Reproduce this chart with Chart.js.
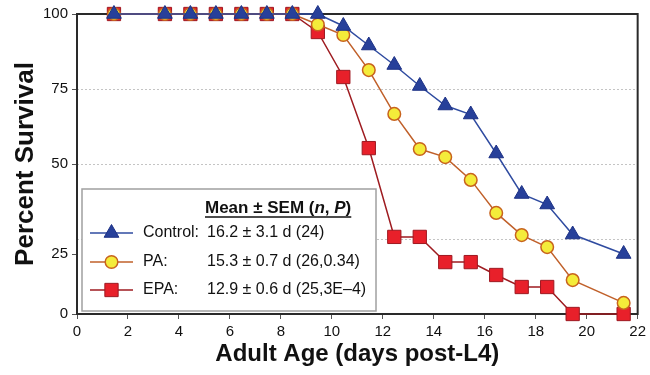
<!DOCTYPE html>
<html>
<head>
<meta charset="utf-8">
<script src="https://cdn.jsdelivr.net/npm/chart.js@4"></script>
<style>
    body { margin: 0; background: #fff; }
</style>
</head>
<body>
<canvas id="chart" width="650" height="375"></canvas>
<script>
// Survival (percent alive) by adult age
const days = [1.45, 3.45, 4.45, 5.45, 6.45, 7.45, 8.45, 9.45, 10.45, 11.45, 12.45, 13.45, 14.45, 15.45, 16.45, 17.45, 18.45, 19.45, 21.45];
const control = [100, 100, 100, 100, 100, 100, 100, 100, 96, 89.5, 83, 76, 69.5, 66.5, 53.5, 40, 36.5, 26.5, 20];
const pa = [100, 100, 100, 100, 100, 100, 100, 96.5, 93, 81.3, 66.7, 55, 52.3, 44.7, 33.7, 26.3, 22.3, 11.3, 3.7];
const epa = [100, 100, 100, 100, 100, 100, 100, 94, 79, 55.3, 25.7, 25.7, 17.3, 17.3, 13, 9, 9, 0, 0];

// Legend text
const seriesNames = ['Control:', 'PA:', 'EPA:'];
const seriesStats = ['16.2 ± 3.1 d (24)', '15.3 ± 0.7 d (26,0.34)', '12.9 ± 0.6 d (25,3E–4)'];

// Axis ticks (the "25" label sits below its grid line in the original)
const xTicks = [0, 2, 4, 6, 8, 10, 12, 14, 16, 18, 20, 22];
const yTickValues = [0, 20, 25, 50, 75, 100];
const yTickLabels = ['0', '25', '', '50', '75', '100'];
const yGridValues = [25, 50, 75];

const FONT = "'Liberation Sans', Arial, sans-serif";

function toPoints(values) {
    return values.map((v, i) => ({ x: days[i], y: v }));
}

// Frame around the plot area
const frame = {
    id: 'frame',
    beforeDatasetsDraw(chart) {
        const { ctx, chartArea: a } = chart;
        ctx.save();
        ctx.strokeStyle = '#2a2a2a';
        ctx.lineWidth = 2;
        ctx.strokeRect(a.left, a.top, a.right - a.left, a.bottom - a.top);
        ctx.restore();
    }
};

// Boxed legend with stats
const legendBox = {
    id: 'legendBox',
    afterDraw(chart) {
        const ctx = chart.ctx;
        const left = 82, top = 189, width = 294, height = 122;
        ctx.save();
        ctx.fillStyle = '#fff';
        ctx.fillRect(left, top, width, height);
        ctx.strokeStyle = '#a0a0a0';
        ctx.lineWidth = 1.5;
        ctx.strokeRect(left, top, width, height);

        // Title with italic n and P, underlined
        const parts = [
            ['Mean ± SEM (', 'bold'],
            ['n', 'italic bold'],
            [', ', 'bold'],
            ['P', 'italic bold'],
            [')', 'bold']
        ];
        let x = 205;
        const ty = 208;
        ctx.fillStyle = '#111';
        ctx.textBaseline = 'middle';
        parts.forEach(([text, style]) => {
            ctx.font = `${style} 17px ${FONT}`;
            ctx.fillText(text, x, ty);
            x += ctx.measureText(text).width;
        });
        ctx.strokeStyle = '#111';
        ctx.lineWidth = 1.3;
        ctx.beginPath();
        ctx.moveTo(205, ty + 9);
        ctx.lineTo(x, ty + 9);
        ctx.stroke();

        // Rows
        const rowY = [233, 262, 290];
        chart.data.datasets.forEach((ds, i) => {
            const y = rowY[i];
            ctx.strokeStyle = ds.borderColor;
            ctx.lineWidth = ds.borderWidth;
            ctx.beginPath();
            ctx.moveTo(90, y);
            ctx.lineTo(133, y);
            ctx.stroke();

            ctx.fillStyle = ds.pointBackgroundColor;
            ctx.strokeStyle = ds.pointBorderColor;
            ctx.lineWidth = ds.pointBorderWidth;
            Chart.helpers.drawPoint(ctx, {
                pointStyle: ds.pointStyle,
                radius: ds.pointRadius,
                rotation: 0,
                borderWidth: ds.pointBorderWidth
            }, 111.5, y);

            ctx.fillStyle = '#111';
            ctx.font = `16px ${FONT}`;
            ctx.fillText(seriesNames[i], 143, y);
            const statX = Math.max(207, 143 + ctx.measureText(seriesNames[i] + ' ').width);
            ctx.fillText(seriesStats[i], statX, y);
        });
        ctx.restore();
    }
};

new Chart(document.getElementById('chart'), {
    type: 'line',
    data: {
        datasets: [
            {
                label: 'Control',
                data: toPoints(control),
                borderColor: '#2f4ba0',
                borderWidth: 1.5,
                pointStyle: 'triangle',
                pointRadius: 8.5,
                pointBackgroundColor: '#27409a',
                pointBorderColor: '#1d3185',
                pointBorderWidth: 1,
                clip: false
            },
            {
                label: 'PA',
                data: toPoints(pa),
                borderColor: '#c0602a',
                borderWidth: 1.5,
                pointStyle: 'circle',
                pointRadius: 6.3,
                pointBackgroundColor: '#f4ec3a',
                pointBorderColor: '#c8631e',
                pointBorderWidth: 1.5,
                clip: false
            },
            {
                label: 'EPA',
                data: toPoints(epa),
                borderColor: '#9e1b20',
                borderWidth: 1.5,
                pointStyle: 'rect',
                pointRadius: 9.4,
                pointBackgroundColor: '#e8202a',
                pointBorderColor: '#9e1820',
                pointBorderWidth: 1,
                clip: false
            }
        ]
    },
    options: {
        responsive: false,
        animation: false,
        layout: { padding: { top: 14, right: 11, left: 0, bottom: 0 } },
        plugins: {
            legend: { display: false },
            tooltip: { enabled: false }
        },
        scales: {
            x: {
                type: 'linear',
                min: 0,
                max: 22,
                afterBuildTicks: (scale) => { scale.ticks = xTicks.map(v => ({ value: v })); },
                afterFit: (scale) => { scale.height = 61; },
                border: { display: false },
                grid: {
                    drawOnChartArea: false,
                    drawTicks: true,
                    tickLength: 5,
                    tickColor: '#555'
                },
                ticks: {
                    padding: 4,
                    color: '#111',
                    font: { family: FONT, size: 15 }
                },
                title: {
                    display: true,
                    text: 'Adult Age (days post-L4)',
                    color: '#111',
                    padding: { top: 0, bottom: 6 },
                    font: { family: FONT, size: 24, weight: 'bold' }
                }
            },
            y: {
                min: 0,
                max: 100,
                afterBuildTicks: (scale) => { scale.ticks = yTickValues.map(v => ({ value: v })); },
                afterFit: (scale) => { scale.width = 77; },
                border: { display: false, dash: [2, 2] },
                grid: {
                    color: (c) => yGridValues.includes(c.tick && c.tick.value) ? '#c4c4c4' : 'rgba(0,0,0,0)',
                    lineWidth: 1,
                    drawTicks: true,
                    tickLength: 5,
                    tickColor: (c) => (c.tick && c.tick.value === 25) ? 'rgba(0,0,0,0)' : '#555'
                },
                ticks: {
                    padding: 4,
                    color: '#111',
                    font: { family: FONT, size: 15 },
                    callback: (value, index) => yTickLabels[index]
                },
                title: {
                    display: true,
                    text: 'Percent Survival',
                    color: '#111',
                    padding: { top: 10, bottom: 0 },
                    font: { family: FONT, size: 26, weight: 'bold' }
                }
            }
        }
    },
    plugins: [frame, legendBox]
});
</script>
</body>
</html>
